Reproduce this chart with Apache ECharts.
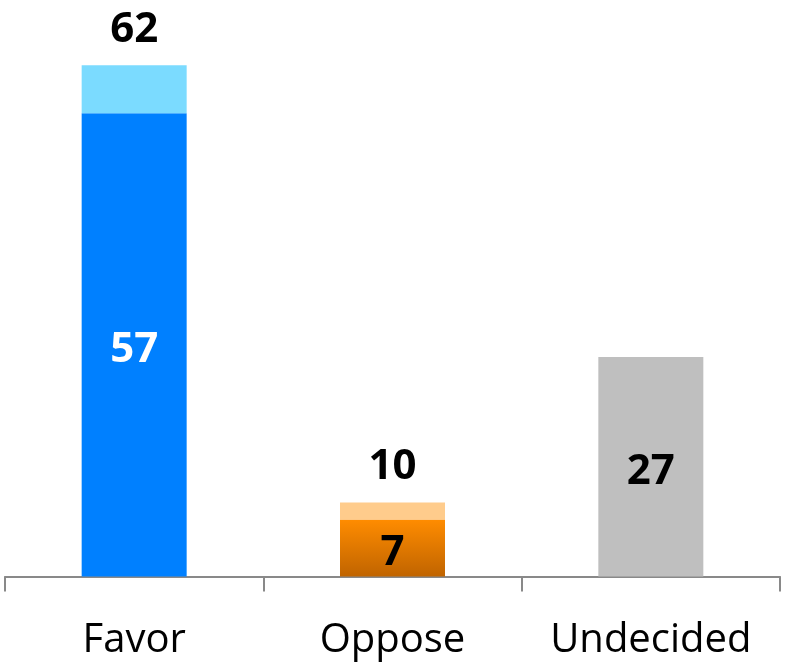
<!DOCTYPE html>
<html><head><meta charset="utf-8">
<script src="https://cdn.jsdelivr.net/npm/echarts@6/dist/echarts.min.js"></script>
<style>html,body{margin:0;padding:0;background:#fff}#c{width:787px;height:668px}</style>
</head><body><div id="c"></div>
<script>
const categories = ["Favor", "Oppose", "Undecided"];
const strongValues = [57, 7, 27];
const leanValues = [5.9, 2.1, 0];
const totalLabels = ["62", "10", ""];

const strongColors = [
  '#0080FF',
  {type:'linear',x:0,y:0,x2:0,y2:1,colorStops:[{offset:0,color:'#FF8C00'},{offset:1,color:'#C06400'}]},
  '#BFBFBF'
];
const strongLabelColors = ['#FFFFFF', '#000000', '#000000'];
const leanColors = ['#7BDBFF', '#FFCC8C', '#FFFFFF'];

const chart = echarts.init(document.getElementById('c'));
chart.setOption({
  animation: false,
  grid: {left: 5, right: 7, top: 7.5, bottom: 91.5, containLabel: false},
  xAxis: {
    type: 'category', data: categories,
    axisLine: {lineStyle: {color: '#898989', width: 2}},
    axisTick: {show: true, interval: 0, length: 15, lineStyle: {color: '#898989', width: 2}},
    axisLabel: {interval: 0, color: '#000', fontSize: 40, fontFamily: 'Open Sans', margin: 44}
  },
  yAxis: {type: 'value', min: 0, max: 70, show: false, splitLine: {show: false}},
  series: [
    {
      type: 'bar', stack: 'a', barWidth: 105,
      data: strongValues.map((v, i) => ({
        value: v,
        itemStyle: {color: strongColors[i]},
        label: {color: strongLabelColors[i]}
      })),
      label: {show: true, position: 'inside', offset: [0, 5], fontSize: 42, fontWeight: 'bold', fontFamily: 'Open Sans'}
    },
    {
      type: 'bar', stack: 'a', barWidth: 105,
      data: leanValues.map((v, i) => ({value: v, itemStyle: {color: leanColors[i]}})),
      label: {
        show: true, position: 'top', distance: 14, color: '#000',
        fontSize: 42, fontWeight: 'bold', fontFamily: 'Open Sans',
        formatter: p => totalLabels[p.dataIndex]
      }
    }
  ]
});
</script></body></html>
